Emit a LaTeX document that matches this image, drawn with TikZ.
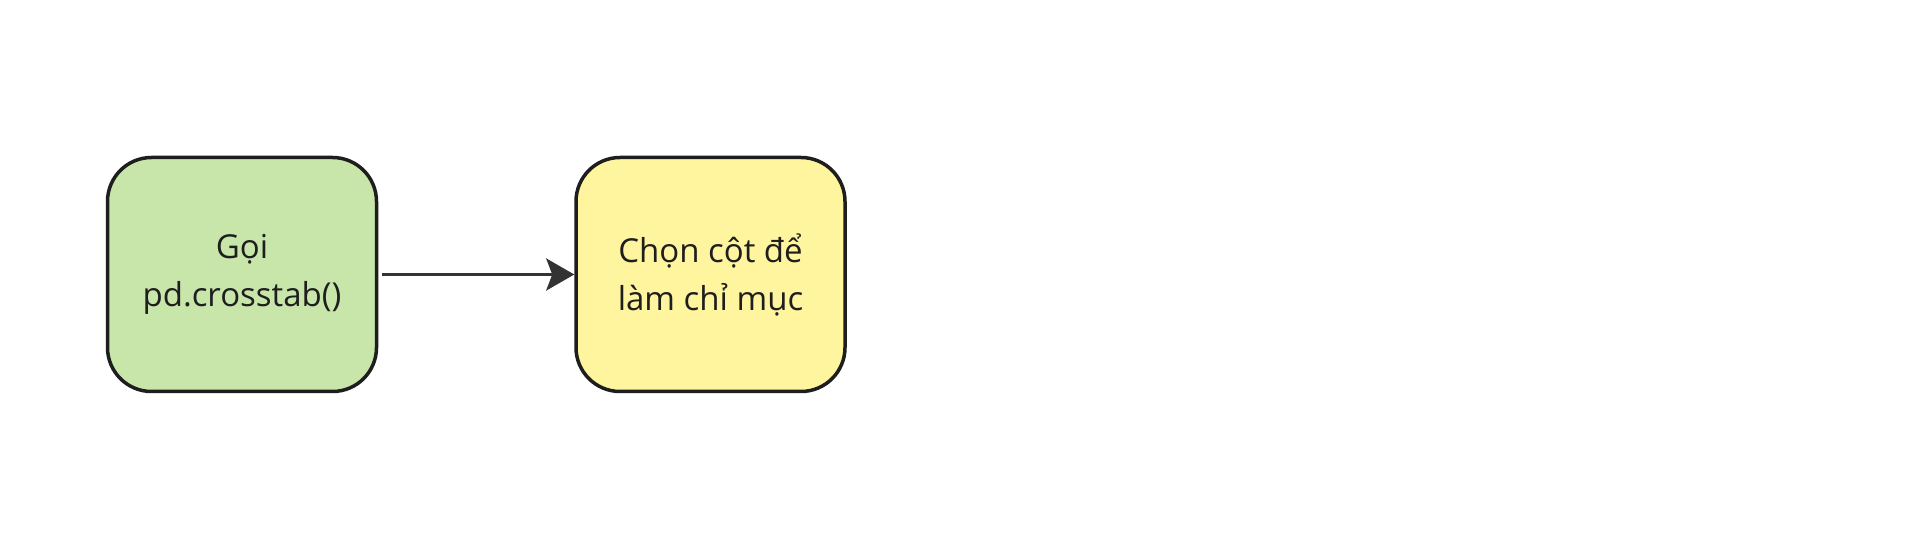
\documentclass[tikz,border=0pt]{standalone}
\usepackage{fontspec}
\setmainfont{Open Sans}
\usetikzlibrary{arrows.meta}
\definecolor{boxgreen}{HTML}{C8E6AA}
\definecolor{boxyellow}{HTML}{FFF59E}
\definecolor{edge}{HTML}{1E1E1E}
\definecolor{arrowc}{HTML}{333333}
\tikzset{
  stepbox/.style={draw=edge, line width=3.5pt, rounded corners=44pt,
    minimum width=269pt, minimum height=234pt, align=center,
    font=\fontsize{33}{48}\selectfont, text=edge, inner sep=0pt},
  conn/.style={draw=arrowc, line width=3.5pt,
    -{Stealth[length=28pt,width=32pt,inset=6pt,fill=arrowc]}}
}
\begin{document}
\begin{tikzpicture}[x=1pt,y=1pt]
\useasboundingbox (0,0) rectangle (1912,544);
\fill[white] (0,0) rectangle (1912,544);
\node[stepbox, fill=boxgreen] (a) at (242,269.5) {Gọi\\pd.crosstab()};
\node[stepbox, fill=boxyellow] (b) at (710.5,269.5) {Chọn cột để\\làm chỉ mục};
\draw[conn] ([xshift=4pt]a.east) -- (b.west);
\end{tikzpicture}
\end{document}
